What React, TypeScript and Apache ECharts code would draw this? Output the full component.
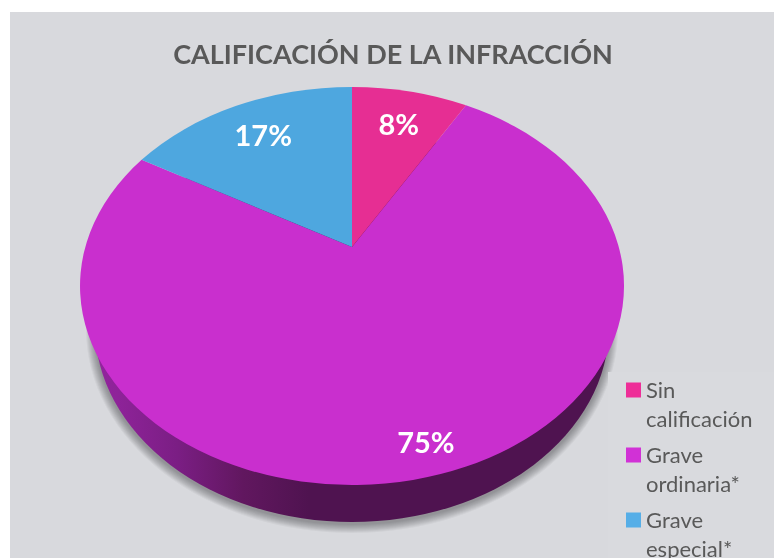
import React, { useEffect, useRef } from "react";
import * as echarts from "echarts";

const titleText = "CALIFICACIÓN DE LA INFRACCIÓN";
const categories = ["Sin\ncalificación", "Grave\nordinaria*", "Grave\nespecial*"];
const shares = [8.33, 75, 16.67];
const sliceColors = ["#E62E93", "#C92FCE", "#4EA7DF"];
const legendColors = ["#EE2E98", "#D131D6", "#56AEE7"];
const labelRadii = [0.76, 0.88, 0.76];

const APEX_X = 352;
const APEX_Y = 247;
const TOP = { cx: 352, cy: 286, rx: 272, ry: 199 };
const BASE = { cx: 352, cy: 327, rx: 257, ry: 195 };
const SHADOW_STEPS = [9, 8, 7, 6, 5, 4, 3, 2, 1];
const W = 266.7;
const H = 191.4;
const K = 0.196;

const total = shares.reduce((a, b) => a + b, 0);

function project(r: number, turn: number): [number, number] {
  const a = turn * 2 * Math.PI;
  const u = r * Math.sin(a);
  const v = r * Math.cos(a);
  const d = 1 + K * v;
  return [APEX_X + (W * u) / d, APEX_Y - (H * v) / d];
}

function ellipsePath(e: typeof TOP) {
  return `M${e.cx - e.rx} ${e.cy}A${e.rx} ${e.ry} 0 1 1 ${e.cx + e.rx} ${e.cy}A${e.rx} ${e.ry} 0 1 1 ${e.cx - e.rx} ${e.cy}Z`;
}

const sideFill = new echarts.graphic.LinearGradient(
  90, 0, 624, 0,
  [
    { offset: 0, color: "#93249E" },
    { offset: 0.05, color: "#8E2399" },
    { offset: 0.163, color: "#7B1E84" },
    { offset: 0.287, color: "#61175F" },
    { offset: 0.41, color: "#4F1350" },
    { offset: 1, color: "#4F1350" },
  ],
  true
);

function renderSlice(index: number) {
  return (_params: any, api: any) => {
    const value = api.value(0);
    let before = 0;
    for (let i = 0; i < index; i++) before += shares[i];
    const start = before / total;
    const end = (before + value) / total;
    const [x1, y1] = project(1, start);
    const [x2, y2] = project(1, end);
    const large = end - start > 0.5 ? 1 : 0;
    const d = `M${APEX_X} ${APEX_Y}L${x1} ${y1}A${TOP.rx} ${TOP.ry} 0 ${large} 1 ${x2} ${y2}Z`;
    const [lx, ly] = project(labelRadii[index], (start + end) / 2);
    const children: any[] = [];
    if (index === 1) {
      SHADOW_STEPS.forEach((s) => {
        children.push({
          type: "path",
          shape: {
            pathData: ellipsePath({
              cx: BASE.cx,
              cy: BASE.cy + 2,
              rx: BASE.rx + s,
              ry: BASE.ry + s,
            }),
          },
          style: { fill: "rgba(0,0,0,0.04)" },
        });
      });
      children.push({
        type: "path",
        shape: { pathData: ellipsePath(BASE) },
        style: { fill: sideFill },
      });
    }
    children.push({
      type: "path",
      shape: { pathData: d },
      style: { fill: sliceColors[index] },
    });
    children.push({
      type: "text",
      z2: 10,
      style: {
        text: `${Math.round(value)}%`,
        x: lx + 1,
        y: ly - 1,
        align: "center",
        verticalAlign: "middle",
        fill: "#FFFFFF",
        font: '700 29px Lato, sans-serif',
      },
    });
    return { type: "group", children };
  };
}

const squareIcon = "path://M0 0L0 0ZM0 7.5L15 7.5L15 22.5L0 22.5ZM0 58L0 58Z";

export default function App() {
  const ref = useRef<HTMLDivElement>(null);
  useEffect(() => {
    const chart = echarts.init(ref.current!, null, { renderer: "svg" });
    const order = [1, 0, 2];
    chart.setOption({
      animation: false,
      title: {
        text: titleText,
        left: 388,
        top: 35,
        textAlign: "center",
        textStyle: {
          fontFamily: "Lato, sans-serif",
          fontWeight: 700,
          fontSize: 27,
          color: "#595959",
        },
      },
      legend: {
        orient: "vertical",
        left: 626,
        top: 375,
        height: 300,
        padding: 0,
        itemWidth: 15,
        itemHeight: 58,
        itemGap: 7,
        selectedMode: false,
        textStyle: {
          fontFamily: "Lato, sans-serif",
          fontSize: 22,
          lineHeight: 29,
          color: "#595959",
        },
        data: categories.map((name, i) => ({
          name,
          icon: squareIcon,
          itemStyle: { color: legendColors[i] },
        })),
      },
      graphic: [
        {
          type: "rect",
          silent: true,
          z: -1,
          shape: { x: 10, y: 12, width: 764, height: 546 },
          style: { fill: "#D8D9DD" },
        },
        {
          type: "rect",
          silent: true,
          z: 3,
          shape: { x: 608, y: 372, width: 166, height: 186 },
          style: { fill: "#D9DADE" },
        },
      ],
      series: order.map((i) => ({
        type: "custom",
        name: categories[i],
        coordinateSystem: "none",
        silent: true,
        clip: false,
        itemStyle: { color: legendColors[i] },
        renderItem: renderSlice(i),
        data: [[shares[i]]],
      })),
    });
    return () => chart.dispose();
  }, []);
  return (
    <div
      ref={ref}
      style={{ position: "fixed", left: 0, top: 0, width: 774, height: 558 }}
    />
  );
}
